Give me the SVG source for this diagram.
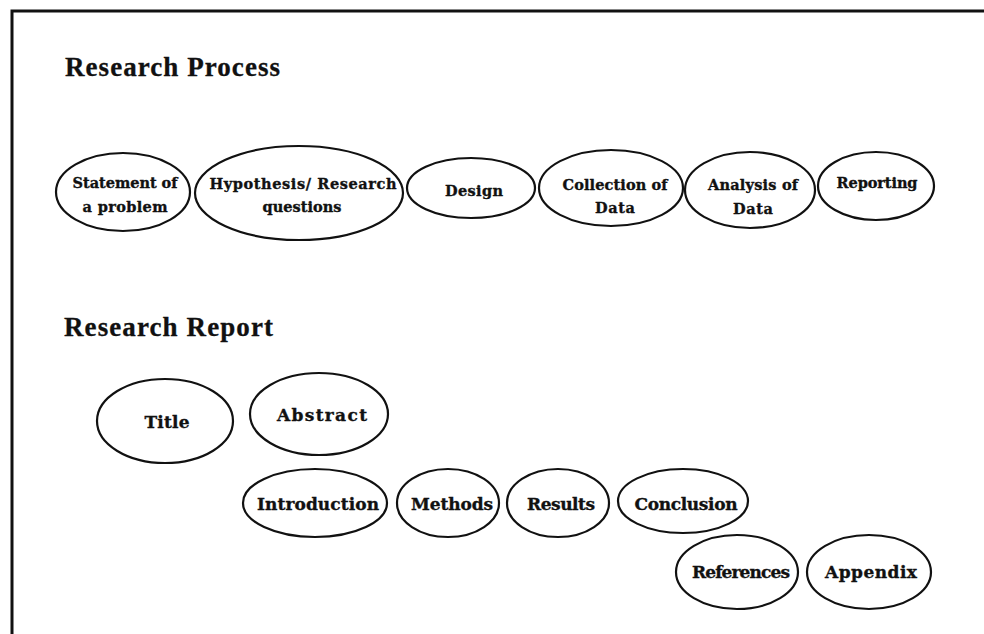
<svg xmlns="http://www.w3.org/2000/svg" width="984" height="634" viewBox="0 0 984 634">
<style>
.bg{fill:#fff}
.frame{stroke:#111;stroke-width:3;fill:none}
.node ellipse{fill:none;stroke:#111;stroke-width:2.2}
.head{font-family:"Liberation Serif","Times New Roman",serif;font-weight:bold;font-size:27px;fill:#111;stroke:#111;stroke-width:0.3}
.lbl{font-family:"DejaVu Serif","Liberation Serif",serif;font-weight:bold;font-size:14.5px;fill:#111;stroke:#111;stroke-width:0.35;text-anchor:middle}
.lbl2{font-family:"DejaVu Serif","Liberation Serif",serif;font-weight:bold;font-size:17px;fill:#111;stroke:#111;stroke-width:0.35;text-anchor:middle}
</style>
<rect class="bg" x="0" y="0" width="984" height="634"/>
<g id="frame">
<path class="frame" d="M12 634 L12 11 L984 11"/>
</g>
<g id="headings">
<text class="head" x="65" y="76" textLength="215" lengthAdjust="spacing">Research Process</text>
<text class="head" x="64" y="336" textLength="209" lengthAdjust="spacing">Research Report</text>
</g>
<g id="statement" class="node">
<ellipse cx="123" cy="192" rx="67" ry="39"/>
<text class="lbl" x="125" y="188" textLength="105" lengthAdjust="spacing">Statement of</text>
<text class="lbl" x="125" y="212" textLength="85" lengthAdjust="spacing">a problem</text>
</g>
<g id="hypothesis" class="node">
<ellipse cx="299" cy="193" rx="104" ry="47"/>
<text class="lbl" x="303" y="189" textLength="187" lengthAdjust="spacing">Hypothesis/ Research</text>
<text class="lbl" x="302" y="212" textLength="79" lengthAdjust="spacing">questions</text>
</g>
<g id="design" class="node">
<ellipse cx="471" cy="188" rx="64" ry="30"/>
<text class="lbl" x="474" y="196" textLength="58" lengthAdjust="spacing">Design</text>
</g>
<g id="collection" class="node">
<ellipse cx="611" cy="188" rx="72" ry="38"/>
<text class="lbl" x="615" y="190" textLength="105" lengthAdjust="spacing">Collection of</text>
<text class="lbl" x="615" y="213" textLength="40" lengthAdjust="spacing">Data</text>
</g>
<g id="analysis" class="node">
<ellipse cx="750" cy="190" rx="65" ry="38"/>
<text class="lbl" x="753" y="190" textLength="90" lengthAdjust="spacing">Analysis of</text>
<text class="lbl" x="753" y="214" textLength="40" lengthAdjust="spacing">Data</text>
</g>
<g id="reporting" class="node">
<ellipse cx="876" cy="186" rx="58" ry="34"/>
<text class="lbl" x="877" y="188" textLength="81" lengthAdjust="spacing">Reporting</text>
</g>
<g id="title" class="node">
<ellipse cx="165" cy="421" rx="68" ry="42"/>
<text class="lbl2" x="167" y="428" textLength="45" lengthAdjust="spacing">Title</text>
</g>
<g id="abstract" class="node">
<ellipse cx="319" cy="414" rx="69" ry="41"/>
<text class="lbl2" x="322" y="421" textLength="90" lengthAdjust="spacing">Abstract</text>
</g>
<g id="introduction" class="node">
<ellipse cx="315" cy="503" rx="72" ry="34"/>
<text class="lbl2" x="318" y="510" textLength="122" lengthAdjust="spacing">Introduction</text>
</g>
<g id="methods" class="node">
<ellipse cx="448" cy="503" rx="51" ry="34"/>
<text class="lbl2" x="452" y="510" textLength="82" lengthAdjust="spacing">Methods</text>
</g>
<g id="results" class="node">
<ellipse cx="558" cy="503" rx="51" ry="34"/>
<text class="lbl2" x="561" y="510" textLength="68" lengthAdjust="spacing">Results</text>
</g>
<g id="conclusion" class="node">
<ellipse cx="683" cy="501" rx="65" ry="32"/>
<text class="lbl2" x="686" y="510" textLength="103" lengthAdjust="spacing">Conclusion</text>
</g>
<g id="references" class="node">
<ellipse cx="737" cy="572" rx="61" ry="37"/>
<text class="lbl2" x="741" y="578" textLength="98" lengthAdjust="spacing">References</text>
</g>
<g id="appendix" class="node">
<ellipse cx="869" cy="572" rx="62" ry="37"/>
<text class="lbl2" x="871" y="578" textLength="92" lengthAdjust="spacing">Appendix</text>
</g>
</svg>
